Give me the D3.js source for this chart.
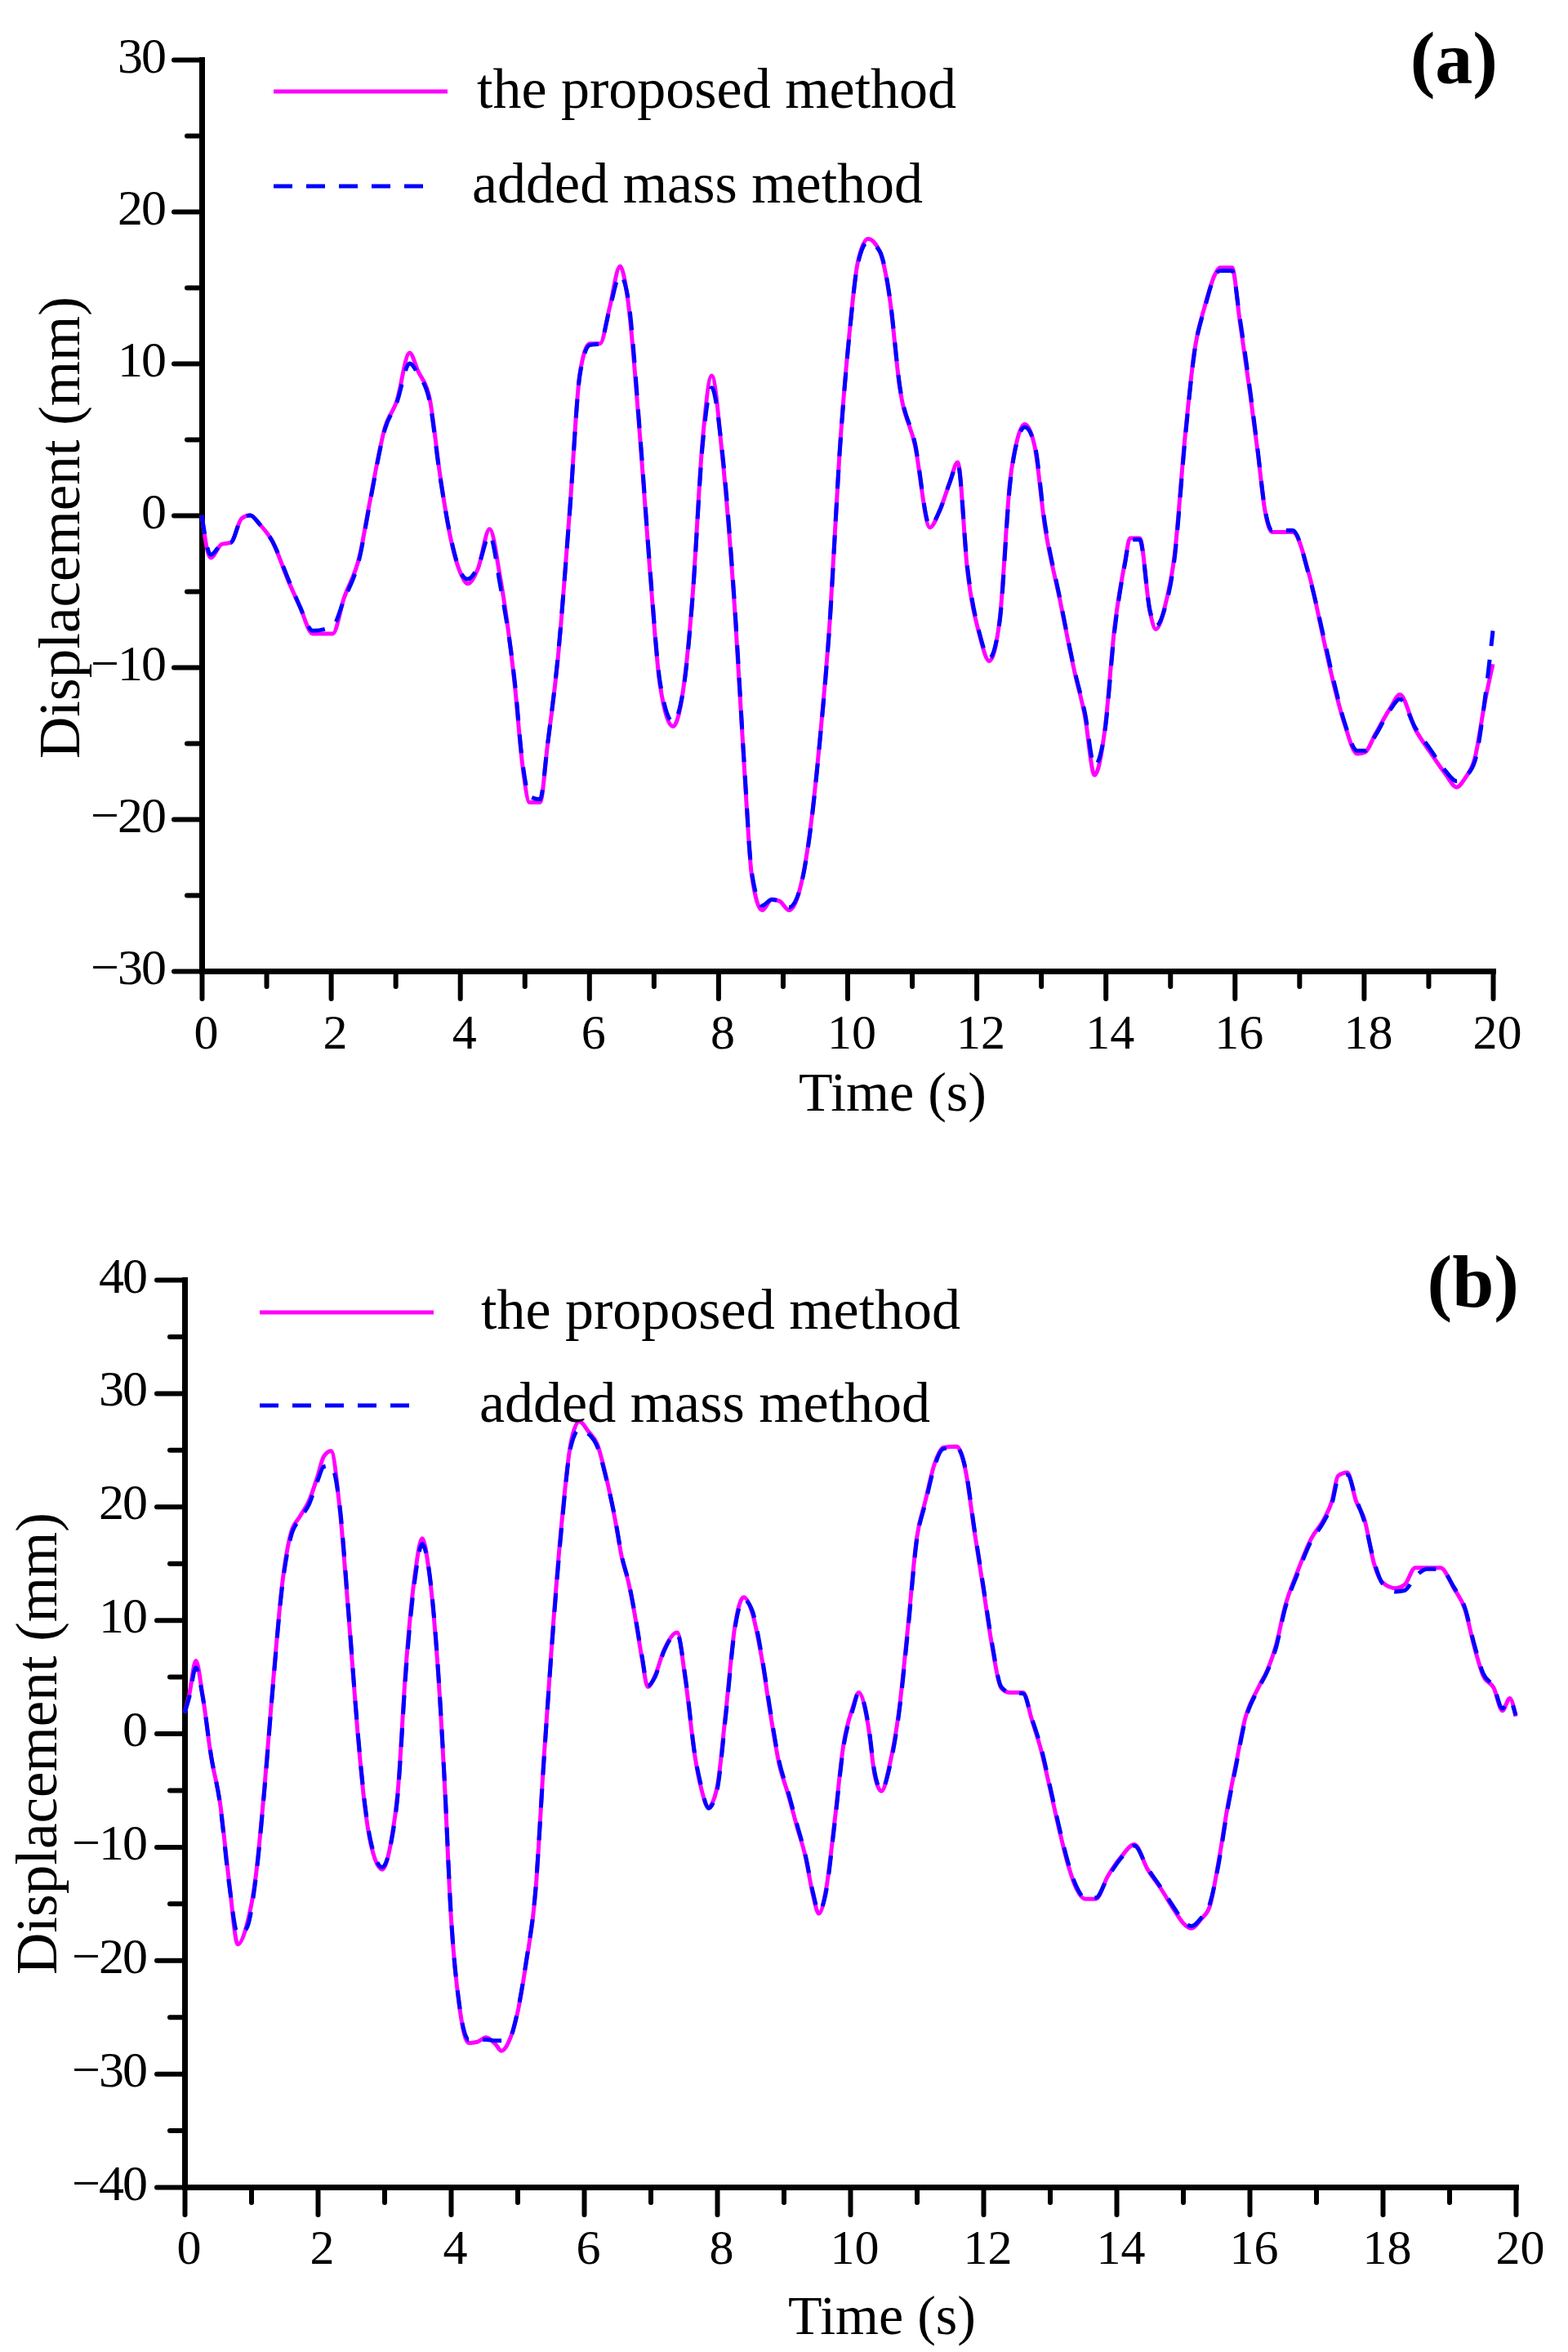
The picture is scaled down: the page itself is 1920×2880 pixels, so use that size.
<!DOCTYPE html>
<html>
<head>
<meta charset="utf-8">
<script src="https://cdn.jsdelivr.net/npm/d3@7"></script>
<style>
  body { margin: 0; background: #fff; }
  svg { display: block; }
  text { font-family: "Liberation Serif", "Times New Roman", serif; fill: #000; }
</style>
</head>
<body>
<svg id="chart" width="1920" height="2880"></svg>
<script>
"use strict";

// ---- data ----
const timeA = [0, 0.14, 0.31, 0.45, 0.62, 0.75, 0.9, 1.08, 1.36, 1.52,
  1.72, 2.03, 2.2, 2.45, 2.6, 2.84, 3.02, 3.22, 3.35, 3.53,
  3.69, 3.84, 4.03, 4.12, 4.28, 4.46, 4.62, 4.85, 4.97, 5.08,
  5.24, 5.36, 5.52, 5.7, 5.86, 6.01, 6.17, 6.32, 6.48, 6.6,
  6.79, 6.94, 7.1, 7.3, 7.48, 7.6, 7.76, 7.9, 8.06, 8.26,
  8.41, 8.52, 8.68, 8.83, 8.95, 9.1, 9.26, 9.42, 9.57, 9.73,
  9.88, 10.04, 10.16, 10.32, 10.5, 10.66, 10.81, 11.05, 11.28, 11.43,
  11.59, 11.71, 11.86, 12.05, 12.2, 12.36, 12.52, 12.64, 12.75, 12.9,
  13.06, 13.29, 13.52, 13.68, 13.83, 13.99, 14.14, 14.3, 14.38, 14.53,
  14.69, 14.78, 14.92, 15.07, 15.23, 15.38, 15.54, 15.7, 15.77, 15.96,
  16.08, 16.24, 16.36, 16.47, 16.58, 16.9, 17.16, 17.39, 17.54, 17.7,
  17.9, 18.02, 18.18, 18.41, 18.56, 18.8, 19.03, 19.26, 19.44, 19.57,
  19.72, 19.88, 20.0]
const proposedA = [0, -2.8, -1.9, -1.8, -0.2, 0, -0.6, -1.6, -4.5, -6,
  -7.8, -7.8, -5.5, -2.6, 0.8, 5.8, 7.5, 10.7, 9.5, 7.7,
  2.7, -1.2, -4, -4.5, -3.5, -0.9, -4, -11.2, -16.5, -18.9,
  -18.9, -15, -9.3, 0.3, 9.4, 11.3, 11.3, 13.7, 16.4, 14.2,
  5.1, -3.5, -11.2, -13.9, -10.8, -5.5, 5, 9.2, 4.1, -6.4,
  -17, -23.7, -26, -25.3, -25.4, -26, -24.7, -20.9, -15, -6.9,
  4.1, 12.3, 16.6, 18.2, 17.4, 14.2, 8.5, 4.6, -0.8, 0.3,
  2.2, 3.5, -3.6, -7.9, -9.6, -6.9, 2.2, 5.1, 6.0, 4.6,
  -0.7, -5.5, -10.3, -13.2, -17.1, -14.1, -7.4, -3.1, -1.5, -1.5,
  -6.4, -7.5, -6, -2.6, 5.1, 10.9, 13.8, 15.9, 16.3, 16.3,
  12.8, 8, 4.1, 0.3, -1.1, -1.1, -4, -8.4, -11.2, -13.7,
  -15.7, -15.6, -14.4, -12.7, -11.8, -14.1, -15.6, -17, -17.9, -17.3,
  -16, -12.2, -9.8]
const addedA = [0, -2.6, -1.9, -1.8, -0.2, 0, -0.6, -1.6, -4.4, -6,
  -7.6, -7.3, -5.6, -2.7, 0.7, 5.7, 7.4, 10.0, 9.3, 7.5,
  2.6, -1.1, -3.9, -4.2, -3.4, -1.3, -4.5, -11.0, -16.3, -18.5,
  -18.7, -15, -9.2, 0.2, 9.3, 11.2, 11.3, 13.6, 15.8, 14.4,
  5.3, -3.3, -11.0, -13.6, -10.9, -5.6, 4.7, 8.4, 4.3, -6.2,
  -16.8, -23.5, -25.7, -25.3, -25.4, -25.8, -24.7, -21.0, -15.1, -7.0,
  4.0, 12.2, 16.5, 18.0, 17.4, 14.3, 8.6, 4.7, -0.7, 0.3,
  2.2, 3.4, -3.4, -7.8, -9.4, -7.0, 2.0, 5.0, 5.8, 4.7,
  -0.5, -5.4, -10.2, -13.0, -16.5, -14.2, -7.6, -3.2, -1.6, -1.6,
  -6.3, -7.3, -6.1, -2.8, 4.9, 10.8, 13.7, 15.8, 16.1, 16.1,
  13.0, 8.2, 4.2, 0.4, -1.0, -1.0, -4.1, -8.2, -11.0, -13.6,
  -15.5, -15.5, -14.5, -12.8, -12.1, -14.0, -15.4, -16.8, -17.5, -17.2,
  -16.2, -12.0, -7.6]

const timeB = [0, 0.07, 0.17, 0.27, 0.4, 0.53, 0.67, 0.8, 0.93, 1.07,
  1.2, 1.33, 1.47, 1.6, 1.73, 1.87, 2.0, 2.09, 2.2, 2.33,
  2.47, 2.6, 2.71, 2.8, 2.97, 3.11, 3.2, 3.33, 3.47, 3.57,
  3.67, 3.8, 3.91, 4.0, 4.13, 4.27, 4.4, 4.53, 4.67, 4.76,
  4.87, 5.0, 5.13, 5.27, 5.4, 5.53, 5.67, 5.8, 5.93, 6.07,
  6.2, 6.33, 6.47, 6.57, 6.67, 6.76, 6.87, 6.96, 7.07, 7.2,
  7.4, 7.53, 7.67, 7.76, 7.87, 8.0, 8.13, 8.27, 8.4, 8.53,
  8.67, 8.8, 8.93, 9.07, 9.2, 9.33, 9.44, 9.53, 9.64, 9.77,
  9.9, 10.04, 10.13, 10.27, 10.37, 10.47, 10.6, 10.73, 10.87, 11.0,
  11.13, 11.27, 11.4, 11.6, 11.73, 11.87, 12.0, 12.13, 12.27, 12.4,
  12.6, 12.73, 12.87, 13.0, 13.13, 13.27, 13.4, 13.53, 13.69, 13.87,
  14.07, 14.27, 14.47, 14.67, 14.87, 15.0, 15.13, 15.27, 15.4, 15.53,
  15.67, 15.8, 15.93, 16.13, 16.27, 16.4, 16.53, 16.73, 16.93, 17.11,
  17.24, 17.33, 17.47, 17.6, 17.73, 17.87, 18.0, 18.2, 18.33, 18.49,
  18.67, 18.87, 19.07, 19.24, 19.37, 19.51, 19.67, 19.8, 19.91, 20]
const proposedB = [1.8, 3.4, 6.4, 3.4, -2.1, -6, -13.1, -18.6, -17, -12.6,
  -4.8, 4.5, 13.3, 17.7, 19.1, 20.5, 22.7, 24.4, 24.9, 19.9,
  10, 0.1, -6.5, -9.8, -12, -9.3, -5.4, 6.2, 14.4, 17.2,
  14.4, 6.2, -4.8, -15.9, -24.1, -27.3, -27.2, -26.8, -27.4, -28,
  -27.2, -24.7, -20.3, -14.2, -2.1, 8.9, 18.8, 25.5, 27.5, 26.6,
  25.5, 22.7, 18.8, 15.5, 13.3, 10.6, 6.7, 4.1, 5.1, 7.3,
  8.9, 4.5, -2.1, -4.8, -6.5, -4.8, 1.8, 9.5, 12, 10.6,
  6.7, 1.8, -2.6, -5.4, -8.2, -10.9, -14.2, -15.9, -13.7, -7.6,
  -1, 2.3, 3.6, 0.7, -3.7, -5.1, -2.6, 1.8, 9.5, 17.2,
  20.5, 23.8, 25.2, 25.3, 23.3, 17.7, 12.8, 7.8, 4, 3.6,
  3.6, 1.2, -1.5, -4.8, -8.2, -11.5, -13.7, -14.6, -14.6, -12.6,
  -10.9, -9.8, -12, -13.7, -15.6, -16.7, -17.2, -16.4, -15.3, -11.5,
  -6.5, -2.6, 1.2, 4, 5.6, 7.8, 11.1, 14.4, 17.2, 18.8,
  20.5, 22.7, 23, 20.5, 18.8, 15, 13.3, 12.8, 13.1, 14.6,
  14.6, 14.6, 12.8, 10.9, 7.8, 5.1, 4, 2, 3.1, 1.5]
const addedB = [1.8, 3.2, 5.8, 3.3, -2.0, -6.1, -13.3, -17.7, -17.2, -12.8,
  -5.0, 4.3, 13.1, 17.4, 18.9, 20.2, 22.3, 23.5, 23.6, 20.1,
  10.2, 0.3, -6.3, -9.6, -11.8, -9.4, -5.6, 5.8, 14.0, 16.7,
  14.5, 6.4, -4.6, -15.7, -24.0, -27.0, -27.0, -27.0, -27.1, -27.1,
  -27.0, -24.6, -20.2, -14.0, -2.3, 8.6, 18.5, 25.2, 26.8, 26.4,
  25.3, 22.6, 18.9, 15.6, 13.4, 10.7, 6.9, 4.2, 5.0, 7.2,
  8.8, 4.7, -2.0, -4.6, -6.6, -5.0, 1.5, 9.3, 11.8, 10.8,
  6.9, 2.0, -2.4, -5.2, -8.0, -10.8, -14.0, -15.7, -13.9, -7.8,
  -1.2, 2.1, 3.6, 0.9, -3.5, -5.0, -2.8, 1.6, 9.2, 17.0,
  20.3, 23.6, 25.1, 25.2, 23.4, 17.9, 13.0, 8.0, 4.1, 3.6,
  3.5, 1.3, -1.3, -4.6, -8.0, -11.3, -13.5, -14.5, -14.5, -12.7,
  -11.0, -9.9, -11.9, -13.6, -15.4, -16.5, -17.0, -16.3, -15.1, -11.7,
  -6.7, -2.8, 1.0, 3.9, 5.5, 7.6, 10.9, 14.2, 17.0, 18.6,
  20.3, 22.4, 22.8, 20.7, 18.6, 15.2, 13.2, 12.5, 12.6, 13.8,
  14.5, 14.5, 12.9, 11.0, 8.0, 5.3, 4.1, 2.2, 2.9, 1.6]

const xTicks = [0, 2, 4, 6, 8, 10, 12, 14, 16, 18, 20]
const xMinorTicks = [1, 3, 5, 7, 9, 11, 13, 15, 17, 19]
const yTicksA = [-30, -20, -10, 0, 10, 20, 30]
const yMinorTicksA = [-25, -15, -5, 5, 15, 25]
const yTicksB = [-40, -30, -20, -10, 0, 10, 20, 30, 40]
const yMinorTicksB = [-35, -25, -15, -5, 5, 15, 25, 35]
const seriesNames = ["the proposed method", "added mass method"]
const panelNames = ["(a)", "(b)"]
const xTitle = "Time (s)"
const yTitle = "Displacement (mm)"

const svg = d3.select("#chart")

function drawPanel(cfg){
  let g = svg.append("g")
  let x = d3.scaleLinear().domain([0, 20]).range([cfg.left, cfg.right])
  let y = d3.scaleLinear().domain(cfg.yDomain).range([cfg.bottom, cfg.top])

  // minor ticks first, then major axis on top
  g.append("g")
    .attr("class", "minor")
    .attr("transform", "translate(0," + cfg.bottom + ")")
    .call(d3.axisBottom(x).tickValues(xMinorTicks).tickSize(19).tickSizeOuter(0).tickFormat(""))
  g.append("g")
    .attr("class", "minor")
    .attr("transform", "translate(" + cfg.left + ",0)")
    .call(d3.axisLeft(y).tickValues(cfg.yMinor).tickSize(18).tickSizeOuter(0).tickFormat(""))

  let xAxis = g.append("g")
    .attr("transform", "translate(0," + cfg.bottom + ")")
    .call(d3.axisBottom(x).tickValues(xTicks).tickSize(34).tickSizeOuter(0).tickPadding(0))
  xAxis.selectAll("text")
    .attr("y", cfg.xLabelDy).attr("dy", null).attr("dx", 5)
    .attr("font-size", 60)
  let yAxis = g.append("g")
    .attr("transform", "translate(" + cfg.left + ",0)")
    .call(d3.axisLeft(y).tickValues(cfg.yTicks).tickSize(34).tickSizeOuter(0).tickPadding(0))
  yAxis.selectAll("text")
    .attr("x", cfg.yLabelX).attr("dy", null).attr("y", 15)
    .attr("font-size", 62).attr("letter-spacing", -2)

  g.selectAll(".domain").attr("stroke-width", 7).attr("stroke-linecap", "square")
  g.selectAll(".tick line").attr("stroke-width", 6).attr("stroke-linecap", "round")
  g.selectAll(".tick text").attr("font-family", null)

  // curves
  let line = d3.line()
    .x(d => x(d[0]))
    .y(d => y(d[1]))
    .curve(d3.curveMonotoneX)
  g.append("path")
    .datum(d3.zip(cfg.time, cfg.proposed))
    .attr("d", line)
    .attr("fill", "none")
    .attr("stroke", "#ff00ff")
    .attr("stroke-width", 5)
    .attr("stroke-linejoin", "round")
  g.append("path")
    .datum(d3.zip(cfg.time, cfg.added))
    .attr("d", line)
    .attr("fill", "none")
    .attr("stroke", "#0000ff")
    .attr("stroke-width", 5)
    .attr("stroke-dasharray", "23,17")

  // legend
  let lg = g.append("g")
  lg.append("line")
    .attr("x1", cfg.legendX).attr("x2", cfg.legendX + 213)
    .attr("y1", cfg.legendY[0]).attr("y2", cfg.legendY[0])
    .attr("stroke", "#ff00ff").attr("stroke-width", 5)
  lg.append("line")
    .attr("x1", cfg.legendX).attr("x2", cfg.legendX + 183)
    .attr("y1", cfg.legendY[1]).attr("y2", cfg.legendY[1])
    .attr("stroke", "#0000ff").attr("stroke-width", 5)
    .attr("stroke-dasharray", "23,17")
  lg.selectAll("text").data(seriesNames).enter()
    .append("text")
    .attr("x", (d, i) => cfg.legendTextX[i])
    .attr("y", (d, i) => cfg.legendY[i] + 20)
    .attr("font-size", 70)
    .text(d => d)

  g.append("text")
    .attr("x", cfg.panelLabel[0]).attr("y", cfg.panelLabel[1])
    .attr("text-anchor", "end")
    .attr("font-size", 92).attr("font-weight", "bold")
    .text(cfg.name)

  g.append("text")
    .attr("x", cfg.xTitle[0]).attr("y", cfg.xTitle[1])
    .attr("text-anchor", "middle")
    .attr("font-size", 68)
    .text(xTitle)
  g.append("text")
    .attr("transform", "translate(" + cfg.yTitle[0] + "," + cfg.yTitle[1] + ") rotate(-90)")
    .attr("text-anchor", "middle")
    .attr("font-size", 71)
    .text(yTitle)
}

drawPanel({
  name: panelNames[0],
  time: timeA, proposed: proposedA, added: addedA,
  left: 247, right: 1828, top: 73, bottom: 1189,
  yDomain: [-30, 30], yTicks: yTicksA, yMinor: yMinorTicksA,
  xLabelDy: 95, yLabelX: -45,
  legendX: 335, legendY: [112, 228], legendTextX: [584, 578],
  panelLabel: [1834, 102],
  xTitle: [1093, 1360], yTitle: [97, 646]
})

drawPanel({
  name: panelNames[1],
  time: timeB, proposed: proposedB, added: addedB,
  left: 226, right: 1856, top: 1567, bottom: 2678,
  yDomain: [-40, 40], yTicks: yTicksB, yMinor: yMinorTicksB,
  xLabelDy: 94, yLabelX: -47,
  legendX: 318, legendY: [1607, 1721], legendTextX: [589, 587],
  panelLabel: [1860, 1600],
  xTitle: [1080, 2858], yTitle: [69, 2135]
})
</script>
</body>
</html>
